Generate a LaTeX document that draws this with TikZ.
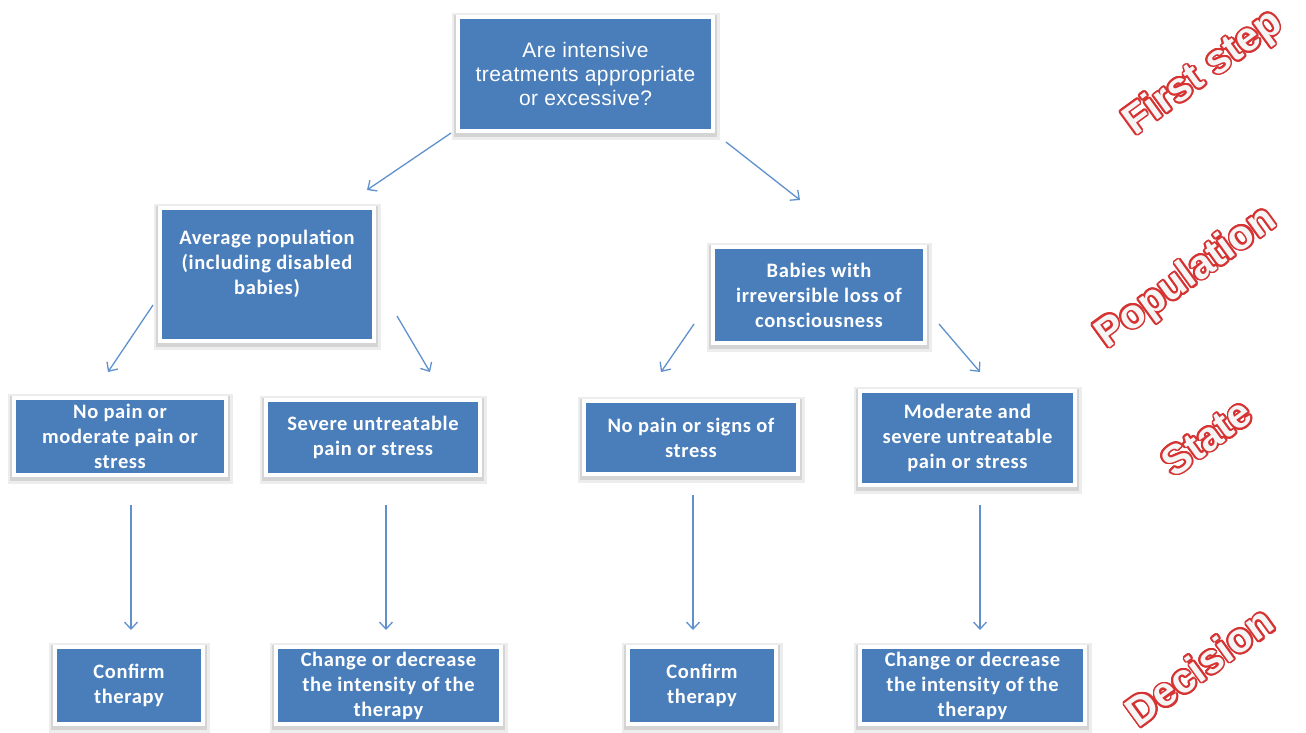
\documentclass[tikz,border=0pt]{standalone}
\usepackage{fontspec}
\usepackage{contour}
\usetikzlibrary{arrows.meta,shadows}
\newfontfamily\boxfont[LetterSpace=3]{Carlito}
\newfontfamily\topfont[LetterSpace=2]{Liberation Sans}
\newfontfamily\labfont{Liberation Sans}
\definecolor{boxblue}{RGB}{74,126,187}
\definecolor{arrblue}{RGB}{95,145,205}
\definecolor{labred}{RGB}{215,50,50}
\definecolor{labfill}{RGB}{245,245,245}
\contourlength{1.8pt}
\contournumber{20}
\tikzset{
  bx/.style={rectangle, fill=boxblue, draw=white, line width=4pt,
    general shadow={draw=black, fill=black, opacity=0.07, line width=13pt, shadow yshift=-2pt},
    general shadow={draw=black, fill=black, opacity=0.10, line width=8pt, shadow yshift=-2pt},
    text=white, align=center, inner sep=0pt,
    font=\boxfont\bfseries\fontsize{20.5}{25}\selectfont},
  topbx/.style={bx, font=\topfont\fontsize{21}{24}\selectfont},
  arr/.style={draw=arrblue, line width=1.3pt, -{Straight Barb[length=7pt,width=13pt]}},
  lab/.style={rotate=36, inner sep=0pt, font=\labfont\bfseries\fontsize{41}{41}\selectfont}
}
\begin{document}
\begin{tikzpicture}[x=1pt,y=-1pt]
\useasboundingbox (0,0) rectangle (1306,732);
\fill[white] (0,0) rectangle (1306,732);

% boxes
\node[topbx, minimum width=255pt, minimum height=114pt] (top) at (585.5,74) {Are intensive\\treatments appropriate\\or excessive?};
\node[bx, minimum width=214pt, minimum height=133pt] (avg) at (267,274.5) {Average population\\(including disabled\\babies)\\\mbox{}};
\node[bx, minimum width=212pt, minimum height=96pt] (bab) at (819,295) {Babies with\\irreversible loss of\\consciousness};
\node[bx, minimum width=212pt, minimum height=77pt] (np1) at (120,436.5) {No pain or\\moderate pain or\\stress};
\node[bx, minimum width=214pt, minimum height=75pt] (sev) at (373,437.5) {Severe untreatable\\pain or stress};
\node[bx, minimum width=214pt, minimum height=73pt] (np2) at (691,437.5) {No pain or signs of\\stress};
\node[bx, minimum width=215pt, minimum height=94pt] (mod) at (967.5,438) {Moderate and\\severe untreatable\\pain or stress};
\node[bx, minimum width=148pt, minimum height=77pt] (cf1) at (129,685.5) {Confirm\\therapy};
\node[bx, minimum width=225pt, minimum height=77pt] (ch1) at (388.5,685.5) {Change or decrease\\the intensity of the\\therapy};
\node[bx, minimum width=148pt, minimum height=77pt] (cf2) at (702,685.5) {Confirm\\therapy};
\node[bx, minimum width=225pt, minimum height=77pt] (ch2) at (972.5,685.5) {Change or decrease\\the intensity of the\\therapy};

% arrow end points
\coordinate (a1s) at (451,133); \coordinate (a1e) at (367,190);
\coordinate (a2s) at (726,142); \coordinate (a2e) at (800,200);
\coordinate (a3s) at (153,305); \coordinate (a3e) at (108,372);
\coordinate (a4s) at (397,316); \coordinate (a4e) at (430,372);
\coordinate (a5s) at (694,324); \coordinate (a5e) at (661,372);
\coordinate (a6s) at (939,324); \coordinate (a6e) at (980,372);
\coordinate (a7s) at (131,505); \coordinate (a7e) at (131,630);
\coordinate (a8s) at (386,505); \coordinate (a8e) at (386,630);
\coordinate (a9s) at (693,495); \coordinate (a9e) at (693,630);
\coordinate (a10s) at (980,505); \coordinate (a10e) at (980,630);
\foreach \i in {1,...,10} { \draw[arr] (a\i s) -- (a\i e); }

% side labels
\node[lab] (l1) at (1204,74) {\contour{labred}{\textcolor{labfill}{First step}}};
\node[lab] (l2) at (1187,279) {\contour{labred}{\textcolor{labfill}{Population}}};
\node[lab] (l3) at (1207,438) {\contour{labred}{\textcolor{labfill}{State}}};
\node[lab] (l4) at (1200,667) {\contour{labred}{\textcolor{labfill}{Decision}}};
\end{tikzpicture}
\end{document}
